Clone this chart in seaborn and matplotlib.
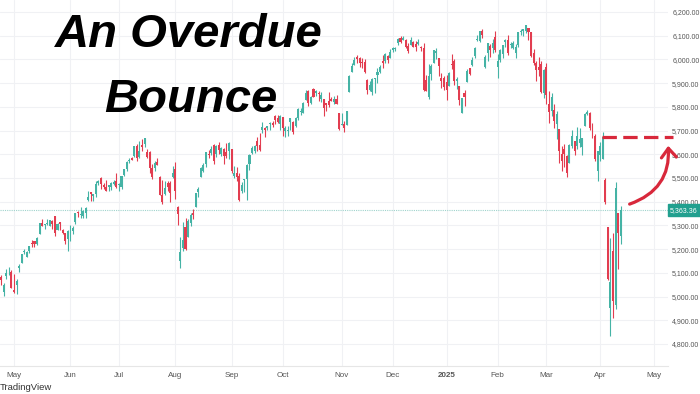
import numpy as np
import pandas as pd
import matplotlib
matplotlib.use("Agg")
import matplotlib.pyplot as plt
import seaborn as sns
from matplotlib.patches import FancyArrowPatch, Rectangle

# ---------------- data (S&P 500 daily, Apr 24 2024 - Apr 11 2025) ----------------
opens = [5084, 5020, 5085, 5114, 5103,
         5029, 5050, 5122, 5142, 5187, 5168, 5190, 5226, 5233, 5221, 5264, 5311, 5303, 5305, 5298, 5319, 5340, 5282, 5315, 5279, 5269, 5244,
         5283, 5275, 5315, 5357, 5343, 5341, 5353, 5409, 5441, 5424, 5431, 5477, 5499, 5472, 5460, 5461, 5460, 5474, 5488,
         5471, 5461, 5513, 5538, 5572, 5584, 5592, 5636, 5590, 5638, 5644, 5610, 5608, 5543, 5544, 5566, 5506, 5429, 5433, 5477, 5478, 5506,
         5537, 5376, 5151, 5206, 5294, 5252, 5312, 5352, 5376, 5442, 5505, 5530, 5557, 5602, 5605, 5637, 5603, 5640, 5602, 5624, 5608, 5613,
         5623, 5507, 5520, 5507, 5443, 5490, 5496, 5557, 5604, 5615, 5655, 5641, 5702, 5709, 5711, 5727, 5733, 5762, 5755, 5727,
         5757, 5698, 5698, 5737, 5737, 5719, 5752, 5778, 5775, 5829, 5866, 5817, 5876, 5859, 5857, 5832, 5834, 5816, 5826, 5833, 5820, 5832, 5775,
         5724, 5728, 5722, 5864, 5947, 5977, 6009, 6004, 5986, 5989, 5912, 5870, 5864, 5917, 5933, 5946, 5992, 5992, 6015, 6004,
         6041, 6042, 6069, 6089, 6081, 6084, 6057, 6060, 6074, 6064, 6063, 6052, 6048, 5912, 5842, 5940, 5985, 6025, 6006, 5920, 5920,
         5903, 5888, 5982, 5994, 5910, 5890, 5772, 5858, 5905, 5963, 5978, 6015, 6081, 6077, 6121, 5969, 6026, 6057, 6050, 6096,
         5970, 5998, 6021, 6072, 6083, 6060, 6050, 6025, 6061, 6115, 6121, 6118, 6134, 6114, 6026, 5983, 5970, 5982, 5857,
         5969, 5811, 5782, 5785, 5726, 5705, 5603, 5624, 5594, 5563, 5635, 5654, 5633, 5646, 5629, 5719, 5771, 5772, 5696, 5679, 5528,
         5598, 5581, 5492, 5292, 4953, 5193, 4966, 5353, 5256]
highs = [5089, 5057, 5114, 5124, 5110,
         5096, 5073, 5139, 5181, 5200, 5192, 5215, 5240, 5234, 5250, 5311, 5325, 5305, 5325, 5324, 5324, 5341, 5311, 5316, 5283, 5270, 5280,
         5302, 5297, 5354, 5362, 5376, 5365, 5376, 5447, 5442, 5432, 5488, 5490, 5506, 5478, 5490, 5472, 5483, 5490, 5523,
         5479, 5510, 5539, 5570, 5583, 5590, 5635, 5642, 5655, 5666, 5669, 5622, 5615, 5557, 5570, 5586, 5509, 5491, 5488, 5487, 5489, 5552,
         5566, 5383, 5250, 5313, 5330, 5328, 5351, 5371, 5436, 5464, 5546, 5563, 5608, 5620, 5633, 5643, 5641, 5652, 5631, 5628, 5646, 5651,
         5623, 5552, 5547, 5523, 5484, 5497, 5560, 5600, 5636, 5637, 5671, 5690, 5734, 5715, 5721, 5736, 5741, 5767, 5765, 5765,
         5757, 5720, 5718, 5753, 5740, 5757, 5796, 5796, 5822, 5871, 5870, 5844, 5878, 5872, 5866, 5864, 5835, 5817, 5862, 5842, 5847, 5850, 5776,
         5772, 5741, 5784, 5933, 5983, 6012, 6018, 6010, 6008, 6000, 5916, 5908, 5920, 5921, 5963, 5976, 6020, 6025, 6020, 6044,
         6053, 6052, 6089, 6099, 6099, 6088, 6068, 6093, 6079, 6078, 6085, 6057, 6071, 5935, 5982, 5979, 6040, 6050, 6007, 5941, 5929,
         5935, 5949, 6021, 6001, 5927, 5890, 5837, 5871, 5960, 5965, 6012, 6052, 6101, 6119, 6129, 6018, 6070, 6063, 6087, 6121,
         6023, 6042, 6062, 6085, 6101, 6074, 6076, 6063, 6116, 6128, 6129, 6147, 6134, 6115, 6044, 5992, 6009, 5994, 5959,
         5987, 5865, 5860, 5812, 5783, 5706, 5636, 5642, 5598, 5645, 5704, 5654, 5715, 5711, 5670, 5775, 5786, 5777, 5732, 5685, 5615,
         5650, 5695, 5500, 5292, 5246, 5267, 5481, 5353, 5381]
lows = [5047, 5002, 5073, 5089, 5035,
        5013, 5011, 5102, 5142, 5179, 5165, 5185, 5207, 5207, 5217, 5263, 5297, 5284, 5300, 5297, 5286, 5257, 5279, 5280, 5262, 5222, 5192,
        5234, 5265, 5306, 5335, 5331, 5331, 5331, 5404, 5404, 5403, 5420, 5470, 5455, 5452, 5447, 5446, 5451, 5471, 5459,
        5446, 5453, 5510, 5531, 5562, 5574, 5587, 5571, 5583, 5614, 5631, 5584, 5523, 5497, 5528, 5554, 5427, 5390, 5430, 5444, 5397, 5500,
        5410, 5302, 5119, 5193, 5195, 5251, 5298, 5325, 5376, 5420, 5504, 5525, 5546, 5585, 5595, 5560, 5590, 5602, 5593, 5561, 5585, 5581,
        5520, 5501, 5486, 5402, 5435, 5441, 5406, 5535, 5601, 5604, 5615, 5615, 5689, 5674, 5702, 5704, 5714, 5728, 5731, 5703,
        5677, 5674, 5677, 5703, 5686, 5714, 5745, 5764, 5772, 5828, 5804, 5814, 5840, 5846, 5824, 5821, 5763, 5784, 5799, 5823, 5811, 5812, 5703,
        5723, 5696, 5722, 5864, 5947, 5977, 5984, 5966, 5965, 5943, 5854, 5866, 5850, 5860, 5900, 5943, 5964, 5987, 5984, 6004,
        6033, 6034, 6062, 6070, 6080, 6047, 6025, 6060, 6051, 6034, 6059, 6035, 5867, 5866, 5833, 5915, 5983, 6003, 5932, 5879, 5869,
        5829, 5888, 5960, 5891, 5874, 5809, 5773, 5802, 5905, 5934, 5974, 6007, 6077, 6075, 6089, 5962, 5994, 6012, 6027, 6031,
        5923, 5990, 6007, 6051, 6020, 6048, 6042, 6004, 6051, 6103, 6100, 6111, 6084, 6009, 5977, 5908, 5932, 5858, 5837,
        5810, 5732, 5762, 5711, 5666, 5565, 5529, 5546, 5505, 5563, 5626, 5598, 5622, 5632, 5597, 5719, 5764, 5703, 5670, 5572, 5489,
        5571, 5579, 5391, 5069, 4835, 4910, 4949, 5116, 5221]
closes = [5071, 5048, 5100, 5116, 5036,
          5018, 5064, 5128, 5181, 5187, 5188, 5214, 5223, 5221, 5247, 5308, 5297, 5303, 5308, 5321, 5307, 5268, 5305, 5306, 5267, 5235, 5278,
          5283, 5291, 5354, 5352, 5347, 5361, 5375, 5421, 5434, 5431, 5473, 5487, 5473, 5464, 5447, 5469, 5477, 5482, 5460,
          5475, 5509, 5537, 5567, 5572, 5577, 5633, 5584, 5615, 5631, 5667, 5588, 5544, 5505, 5564, 5555, 5427, 5399, 5459, 5463, 5436, 5522,
          5446, 5346, 5186, 5240, 5199, 5319, 5344, 5344, 5435, 5455, 5543, 5554, 5608, 5597, 5621, 5571, 5635, 5616, 5625, 5592, 5592, 5648,
          5529, 5520, 5503, 5408, 5471, 5496, 5554, 5596, 5626, 5633, 5634, 5618, 5714, 5703, 5718, 5732, 5722, 5745, 5738, 5762,
          5709, 5710, 5700, 5751, 5696, 5751, 5792, 5780, 5815, 5859, 5815, 5843, 5841, 5865, 5853, 5851, 5797, 5809, 5808, 5823, 5832, 5813, 5705,
          5729, 5712, 5782, 5929, 5973, 5996, 6001, 5984, 5985, 5949, 5871, 5894, 5917, 5917, 5949, 5969, 5987, 6021, 5999, 6032,
          6047, 6049, 6087, 6075, 6090, 6053, 6034, 6084, 6051, 6051, 6074, 6050, 5872, 5867, 5931, 5974, 6040, 6037, 5971, 5907, 5882,
          5869, 5942, 5975, 5909, 5918, 5827, 5837, 5843, 5950, 5937, 5997, 6049, 6086, 6119, 6101, 6012, 6068, 6039, 6071, 6041,
          5994, 6038, 6061, 6084, 6026, 6066, 6068, 6051, 6115, 6115, 6129, 6144, 6117, 6013, 5983, 5955, 5956, 5861, 5955,
          5850, 5778, 5843, 5739, 5770, 5615, 5572, 5599, 5522, 5639, 5675, 5615, 5675, 5663, 5668, 5768, 5777, 5712, 5693, 5581, 5612,
          5633, 5671, 5397, 5074, 5062, 4982, 5457, 5268, 5363]
last_price = 5363.36
target_level = 5673
month_labels = ["May", "Jun", "Jul", "Aug", "Sep", "Oct", "Nov", "Dec", "2025", "Feb", "Mar", "Apr", "May"]
price_ticks = [4800, 4900, 5000, 5100, 5200, 5300, 5400, 5500, 5600, 5700, 5800, 5900, 6000, 6100, 6200]
holidays = ["2024-05-27", "2024-06-19", "2024-07-04", "2024-09-02", "2024-11-28", "2024-12-25",
            "2025-01-01", "2025-01-09", "2025-01-20", "2025-02-17", "2025-04-18", "2025-05-26"]

# ---------------- trading calendar ----------------
cal = pd.bdate_range("2024-04-24", "2025-05-20", freq="C", holidays=holidays)
n = len(closes)
df = pd.DataFrame({"date": cal[:n], "open": opens, "high": highs, "low": lows, "close": closes})
df["idx"] = np.arange(n)
calidx = pd.Series(np.arange(len(cal)), index=cal)
month_first = calidx.groupby([cal.year, cal.month]).first().values[1:14]

# ---------------- figure ----------------
sns.set_theme(style="white")
plt.rcParams["font.family"] = ["Liberation Sans", "DejaVu Sans"]
W, H = 700, 394
fig = plt.figure(figsize=(7, 3.94), dpi=100)
fig.patch.set_facecolor("white")
ax = fig.add_axes([0, 28 / H, 668 / W, 366 / H])
ax.set_facecolor("white")

up_c, dn_c = "#45b3a5", "#e23d50"
colors = np.where(df["close"] >= df["open"], up_c, dn_c)
ax.vlines(df["idx"], df["low"], df["high"], colors=colors, linewidth=0.8, zorder=3)
body_lo = np.minimum(df["open"], df["close"])
body_h = np.maximum(np.abs(df["close"] - df["open"]), 3)
ax.bar(df["idx"], body_h, bottom=body_lo, width=0.8, color=colors, linewidth=0, zorder=4)

# grid
for m in month_first:
    ax.axvline(m, color="#f0f1f4", lw=0.8, zorder=0)
for p in price_ticks:
    ax.axhline(p, color="#f0f1f4", lw=0.8, zorder=0)

ax.set_xlim(-0.47, 260.5)
ax.set_ylim(4707, 6250.6)
ax.set_xticks(month_first)
ax.set_xticklabels(month_labels)
for lbl in ax.get_xticklabels():
    if lbl.get_text() == "2025":
        lbl.set_fontweight("bold")
ax.tick_params(axis="x", length=0, pad=4, labelsize=5.8, labelcolor="#555555")
ax.yaxis.tick_right()
ax.set_yticks(price_ticks)
ax.set_yticklabels([f"{p:,.2f}" for p in price_ticks])
ax.tick_params(axis="y", length=0, pad=3, labelsize=5.0, labelcolor="#555555")
for s in ["top", "left", "right"]:
    ax.spines[s].set_visible(False)
ax.spines["bottom"].set_color("#e6e6e6")
ax.spines["bottom"].set_linewidth(0.8)

# current price line + label
ax.axhline(last_price, color="#9fd3cc", lw=0.8, ls=(0, (1, 1)), zorder=2)
y_lp = ax.transData.transform((0, last_price))[1]
fig.patches.append(Rectangle((668 / W, (y_lp - 6) / H), 32 / W, 12 / H, transform=fig.transFigure,
                             color="#22a08f", zorder=5))
fig.text(670 / W, y_lp / H, f"{last_price:,.2f}", color="white", fontsize=5.0, va="center", ha="left",
         zorder=7)

# target dashed line
ax.plot([234.7, 262.4], [target_level, target_level], color="#d8283b", lw=2.3, ls=(0, (4.5, 2)),
        clip_on=False, zorder=6, solid_capstyle="butt")

# curved arrow
start = ax.transData.inverted().transform((627, H - 205))
end = ax.transData.inverted().transform((668, H - 143))
arr = FancyArrowPatch(start, end, connectionstyle="arc3,rad=0.4",
                      arrowstyle="->,head_length=0.55,head_width=0.45", mutation_scale=12,
                      color="#d8283b", lw=2.3, clip_on=False, zorder=6)
ax.add_patch(arr)

# title
fig.text(189 / W, (H - 47) / H, "An Overdue", fontsize=34, fontweight="bold", style="italic",
         ha="center", va="baseline", color="black")
fig.text(191 / W, (H - 112) / H, "Bounce", fontsize=34, fontweight="bold", style="italic",
         ha="center", va="baseline", color="black")

# watermark
fig.text(0 / W, (H - 390) / H, "TradingView", fontsize=6.8, color="#333333", ha="left", va="baseline")

fig.savefig("out.png", dpi=100, facecolor="white")
